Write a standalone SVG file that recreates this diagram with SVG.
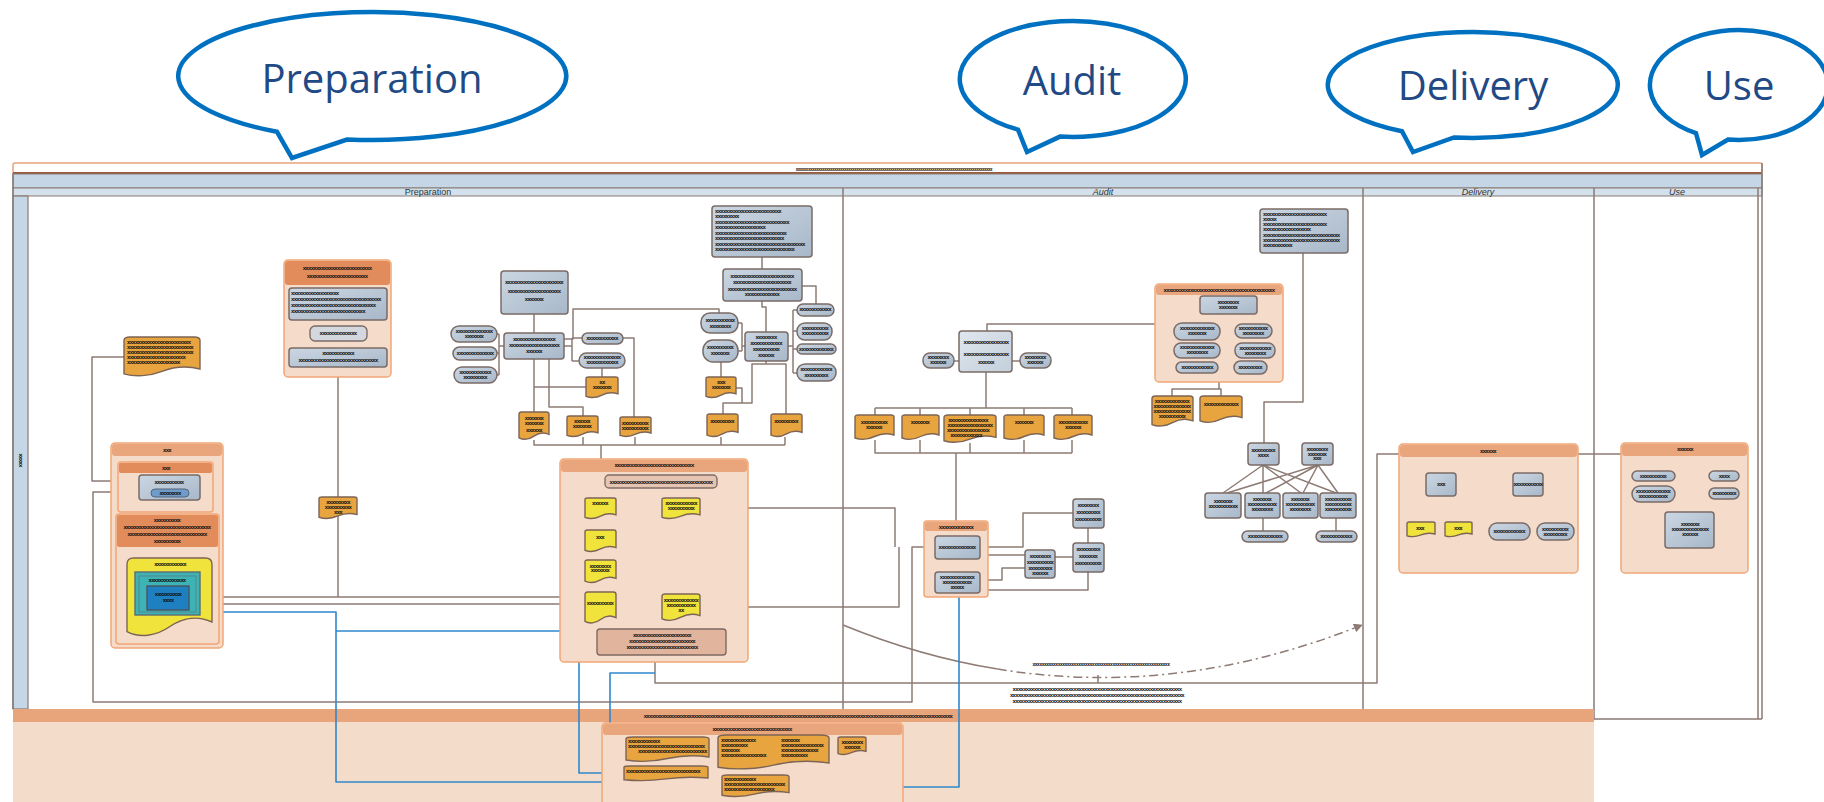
<svg xmlns="http://www.w3.org/2000/svg" width="1824" height="802" viewBox="0 0 1824 802">
<defs>
<style>
.callout{fill:#fff;stroke:#0070c0;stroke-width:4.5;stroke-linejoin:miter}
.ctext{font-family:"Open Sans","Noto Sans",sans-serif;font-size:40px;fill:#1f4a85;text-anchor:middle}
.frame{fill:none;stroke:#8a7a74;stroke-width:1.5}
.lbl{font-family:"Liberation Sans",sans-serif;font-size:9px;fill:#333;text-anchor:middle}
.s{font-family:"Liberation Sans",sans-serif;font-size:6px;font-weight:bold;letter-spacing:-0.7px;fill:#111;text-anchor:middle}
.sl{font-family:"Liberation Sans",sans-serif;font-size:6px;font-weight:bold;letter-spacing:-0.7px;fill:#111}
.grp{fill:#f5dbca;stroke:#f1a676;stroke-width:1.5}
.hdr{fill:#e9a57c}
.hdr2{fill:#e38c5b}
.nd{fill:url(#gb);stroke:#7b6b66;stroke-width:1.5}
.ndl{fill:url(#gl);stroke:#7b6b66;stroke-width:1.5}
.do{fill:#e8a53f}
.dy{fill:#efe33c}
.c{fill:none;stroke:#8d7b74;stroke-width:1.5;stroke-linejoin:round}
.b{fill:none;stroke:#2f88cc;stroke-width:1.6;stroke-linejoin:round}
</style>
<linearGradient id="gb" x1="0" y1="0" x2="1" y2="1"><stop offset="0" stop-color="#cbd6e2"/><stop offset="1" stop-color="#a8b8c9"/></linearGradient>
<linearGradient id="gl" x1="0" y1="0" x2="1" y2="1"><stop offset="0" stop-color="#e0e7ee"/><stop offset="1" stop-color="#c3cfdb"/></linearGradient>
<symbol id="doc" viewBox="0 0 100 100" preserveAspectRatio="none" overflow="visible">
<path d="M0,8 Q0,0 8,0 H92 Q100,0 100,8 V80 C84,72 66,74 50,86 C34,98 14,100 0,92 Z" stroke="#7d6454" stroke-width="1.4" vector-effect="non-scaling-stroke"/>
</symbol>
<marker id="arr" viewBox="0 0 10 10" refX="9" refY="5" markerWidth="6" markerHeight="6" orient="auto"><path d="M0,0 L10,5 L0,10 Z" fill="#8d7b74"/></marker>
</defs>

<rect width="1824" height="802" fill="#fff"/>

<!-- phase callouts -->
<g id="callout-preparation">
<path class="callout" d="M347,139.5 A194,64 0 1 0 277,131.8 L292,158 Z"/>
<text class="ctext" x="372" y="93">Preparation</text>
</g>
<g id="callout-audit">
<path class="callout" d="M1060,136.6 A113,58 0 1 0 1018,129.7 L1027,152 Z"/>
<text class="ctext" x="1072" y="95">Audit</text>
</g>
<g id="callout-delivery">
<path class="callout" d="M1454,137.5 A145,53 0 1 0 1402,131.2 L1413,152 Z"/>
<text class="ctext" x="1473" y="100">Delivery</text>
</g>
<g id="callout-use">
<path class="callout" d="M1728,139.6 A89,55 0 1 0 1696,133.2 L1702,155 Z"/>
<text class="ctext" x="1739" y="100">Use</text>
</g>

<!-- pool frame and lanes -->
<g id="pool">
<rect x="13" y="163" width="1749" height="10" rx="2" fill="#fff" stroke="#e9a27a" stroke-width="1.5"/>
<line x1="13" y1="173" x2="1762" y2="173" stroke="#9a5a3a" stroke-width="2"/>
<text class="s" x="894" y="171" style="font-size:4.5px;letter-spacing:-0.5px">xxxxxxxxxxxxxxxxxxxxxxxxxxxxxxxxxxxxxxxxxxxxxxxxxxxxxxxxxxxxxxxxxxxxxxxxxxxxxxxxxxxxxxxxxxxxxxxxxx</text>
<rect x="13" y="174" width="1749" height="14" fill="#c5d7e6" stroke="#8a7a74" stroke-width="1"/>
<rect x="13" y="188" width="1749" height="8" fill="#d2e1ec" stroke="#8a7a74" stroke-width="1"/>
<rect x="13" y="196" width="15" height="513" fill="#c5d7e6" stroke="#8a7a74" stroke-width="1.2"/>
<text class="s" transform="translate(19,460) rotate(90)">xxxxx</text>
<text class="lbl" x="428" y="195">Preparation</text>
<text class="lbl" x="1103" y="195" font-style="italic">Audit</text>
<text class="lbl" x="1478" y="195" font-style="italic">Delivery</text>
<text class="lbl" x="1677" y="195" font-style="italic">Use</text>
<path class="frame" d="M13,173 V709 M843,188 V709 M1363,188 V709 M1594,188 V719 M1758,188 V719 M1762,163 V719 M1594,719 H1762"/>
</g>

<!-- bottom lane -->
<g id="bottom-lane">
<rect x="13" y="709" width="1581" height="93" fill="#f4dccb"/>
<rect x="13" y="709" width="1581" height="13" fill="#e8a47a"/>
<text class="s" x="798" y="718">xxxxxxxxxxxxxxxxxxxxxxxxxxxxxxxxxxxxxxxxxxxxxxxxxxxxxxxxxxxxxxxxxxxxxxxxxxxxxxxxxxxxxxxxxxxxxxxxxxxxxxxxxxxxxxxxxxxxx</text>
</g>

<!-- connectors -->
<g id="connectors">
<path class="c" d="M124,357 H92 V481 H111"/>
<path class="c" d="M139,492 H93 V702 H912 V547 H935"/>
<path class="c" d="M338,377 V597"/>
<path class="c" d="M189,597 H585"/>
<path class="c" d="M212,604 H560"/>
<path class="c" d="M534,314 V333 M534,359 V412 M549,359 V407 H583 V416 M618,387 H534 M602,368 V377"/>
<path class="c" d="M497,334 H499 M497,353 H499 M497,375 H499 M499,334 V375 M499,346 H504"/>
<path class="c" d="M564,346 H572 M572,338 V361 M572,338 H582 M572,361 H579"/>
<path class="c" d="M564,339 H573 V309 H719 V313"/>
<path class="c" d="M623,338 H634 V417"/>
<path class="c" d="M534,440 V445 H785 M583,437 V445 M635,437 V445 M721,437 V445 M785,437 V445 M601,445 V498"/>
<path class="c" d="M762,257 V269 M762,301 V307 H766 V332 M802,286 H816 V304"/>
<path class="c" d="M738,323 H742 M738,351 H742 M742,323 V351 M742,346 H745"/>
<path class="c" d="M788,346 H793 M793,310 V373 M793,310 H797 M793,331 H797 M793,349 H797 M793,373 H797"/>
<path class="c" d="M721,362 V377 M736,388 H742 V403 M766,361 V364 H752 V403 H723 V414 M766,364 H786 V414"/>
<path class="c" d="M616,508 H662 M616,607 H662"/>
<path class="c" d="M700,508 H895 V547 M700,607 H899 V547"/>
<path class="c" d="M655,662 V683 H1377 V454 H1399"/>
<path class="c" d="M987,331 V324 H1155 M954,361 H959 M1012,361 H1020"/>
<path class="c" d="M986,372 V408 M875,408 H1072 M875,408 V415 M920,408 V415 M970,408 V415 M1024,408 V415 M1072,408 V415"/>
<path class="c" d="M875,440 V453 H1072 M920,440 V453 M970,443 V453 M1024,440 V453 M1072,440 V453 M956,453 V521"/>
<path class="c" d="M1228,314 V367 M1220,331 H1235 M1220,350 H1235 M1218,367 H1234"/>
<path class="c" d="M1219,382 V389 H1172 V396 M1219,389 H1221 V396"/>
<path class="c" d="M1303,253 V402 H1264 V443"/>
<path class="c" stroke-width="1.2" d="M1263,465 L1223,493 M1263,465 L1263,493 M1263,465 L1301,493 M1263,465 L1336,493 M1318,465 L1227,493 M1318,465 L1266,493 M1318,465 L1303,493 M1318,465 L1338,493"/>
<path class="c" d="M1263,518 V531 M1336,518 V531"/>
<path class="c" d="M957,559 V572 M980,547 H1023 V513 H1073 M980,555 H1025 M1055,557 H1073 M980,580 H1002 V568 H1025 M1088,528 V543 M980,590 H1088 V572"/>
<path class="c" d="M1488,457 V466 M1441,466 H1528 M1441,466 V473 M1528,466 V473 M1441,496 V514 M1421,514 H1458 M1421,514 V522 M1458,514 V522 M1528,496 V513 M1509,513 H1555 M1509,513 V523 M1555,513 V523"/>
<path class="c" d="M1578,454 H1621"/>
<path class="c" d="M1689,456 V512 M1675,476 H1709 M1675,494 H1709"/>
<path class="c" d="M709,751 H713 V772 H708 M713,753 H718 M829,749 H834 V749 H838 M741,770 V775"/>
<path class="c" d="M843,625 Q920,656.5 997.7,669.1"/>
<path class="c" stroke-dasharray="9 4 2 4" d="M997.7,669.1 Q1178.6,698.5 1362,625" marker-end="url(#arr)"/>
<path class="c" d="M1098,675 V683"/>
<path class="b" d="M200,612 H336 V782 H602 M336,631 H560"/>
<path class="b" d="M585,613 H579 V773 H624"/>
<path class="b" d="M655,673 H610 V750 H626"/>
<path class="b" d="M789,787 H959 V593"/>
</g>

<g id="flow-label">
<text class="s" x="1101" y="666" style="font-size:5px;letter-spacing:-0.5px">xxxxxxxxxxxxxxxxxxxxxxxxxxxxxxxxxxxxxxxxxxxxxxxxxxxxxxxxxxxx</text>
<text class="s" x="1097" y="691">xxxxxxxxxxxxxxxxxxxxxxxxxxxxxxxxxxxxxxxxxxxxxxxxxxxxxxxxxxxxxxxx</text>
<text class="s" x="1097" y="697">xxxxxxxxxxxxxxxxxxxxxxxxxxxxxxxxxxxxxxxxxxxxxxxxxxxxxxxxxxxxxxxxxx</text>
<text class="s" x="1097" y="703">xxxxxxxxxxxxxxxxxxxxxxxxxxxxxxxxxxxxxxxxxxxxxxxxxxxxxxxxxxxxxxxx</text>
</g>

<!-- preparation lane -->
<g id="n1"><use href="#doc" class="do" x="124" y="337" width="76" height="40"/>
<text class="sl" x="127" y="344">xxxxxxxxxxxxxxxxxxxxxxxx</text><text class="sl" x="127" y="349">xxxxxxxxxxxxxxxxxxxxxxxxx</text><text class="sl" x="127" y="354">xxxxxxxxxxxxxxxxxxxxxxxxx</text><text class="sl" x="127" y="359">xxxxxxxxxxxxxxxxxxxxxx</text><text class="sl" x="127" y="364">xxxxxxxxxxxxxxxxxxxx</text></g>

<g id="g1"><rect class="grp" x="111" y="443" width="112" height="205" rx="4"/><rect class="hdr" x="112" y="444" width="110" height="12" rx="3"/><text class="s" x="167" y="452">xxx</text></g>
<g id="g1a"><rect class="grp" x="118" y="462" width="95" height="50" rx="3"/><rect class="hdr2" x="119" y="463" width="93" height="10" rx="2"/><text class="s" x="166" y="470">xxx</text></g>
<g id="n2"><rect class="nd" x="139" y="475" width="61" height="25" rx="3"/><text class="s" x="169" y="484">xxxxxxxxxxx</text>
<rect x="151" y="489" width="38" height="8" rx="4" fill="#6f9cc9" stroke="#56657a"/><text class="s" x="170" y="495">xxxxxxxx</text></g>
<g id="g1b"><rect class="grp" x="116" y="514" width="103" height="130" rx="3"/><rect class="hdr2" x="117" y="515" width="101" height="32" rx="2"/>
<text class="s" x="167" y="522">xxxxxxxxxx</text><text class="s" x="167" y="529">xxxxxxxxxxxxxxxxxxxxxxxxxxxxxxxxx</text><text class="s" x="167" y="536">xxxxxxxxxxxxxxxxxxxxxxxxxxxxxx</text><text class="s" x="167" y="543">xxxxxxxxxx</text></g>
<g id="n3"><use href="#doc" class="dy" x="127" y="558" width="85" height="80"/><text class="s" x="170" y="566">xxxxxxxxxxxx</text></g>
<g id="n4"><rect x="135" y="572" width="65" height="43" fill="#3db3b5" stroke="#5d6b73" stroke-width="1.4"/><rect x="139" y="576" width="57" height="36" fill="none" stroke="#5d7b83" stroke-width="0.8"/><text class="s" x="167" y="582">xxxxxxxxxxxxxx</text></g>
<g id="n5"><rect x="147" y="586" width="42" height="24" fill="#1f80c1" stroke="#4a5560" stroke-width="1.4"/><text class="s" x="168" y="596">xxxxxxxxxx</text><text class="s" x="168" y="602">xxxx</text></g>

<g id="g2"><rect class="grp" x="284" y="260" width="107" height="117" rx="4"/><rect class="hdr2" x="285" y="261" width="105" height="24" rx="3"/>
<text class="s" x="337" y="270">xxxxxxxxxxxxxxxxxxxxxxxxxx</text><text class="s" x="337" y="278">xxxxxxxxxxxxxxxxxxxxxxx</text></g>
<g id="n6"><rect class="nd" x="289" y="288" width="98" height="32" rx="3"/>
<text class="sl" x="291" y="295">xxxxxxxxxxxxxxxxxx</text><text class="sl" x="291" y="301">xxxxxxxxxxxxxxxxxxxxxxxxxxxxxxxxxx</text><text class="sl" x="291" y="307">xxxxxxxxxxxxxxxxxxxxxxxxxxxxxxxx</text><text class="sl" x="291" y="313">xxxxxxxxxxxxxxxxxxxxxxxxxxxx</text></g>
<g id="n7"><rect x="310" y="326" width="57" height="15" rx="5" fill="#d4d7dd" stroke="#7b6b66" stroke-width="1.4"/><text class="s" x="338" y="335">xxxxxxxxxxxxxx</text></g>
<g id="n8"><rect class="nd" x="289" y="348" width="98" height="19" rx="3"/><text class="s" x="338" y="355">xxxxxxxxxxxx</text><text class="s" x="338" y="362">xxxxxxxxxxxxxxxxxxxxxxxxxxxxxx</text></g>
<g id="n9"><use href="#doc" class="do" x="319" y="497" width="38" height="22"/><text class="s" x="338" y="504">xxxxxxxxx</text><text class="s" x="338" y="509">xxxxxxxxxx</text><text class="s" x="338" y="514">xxx</text></g>

<g id="nA"><rect class="nd" x="501" y="271" width="67" height="43" rx="3"/><text class="s" x="534" y="284">xxxxxxxxxxxxxxxxxxxxxx</text><text class="s" x="534" y="293">xxxxxxxxxxxxxxxxxxxx</text><text class="s" x="534" y="301">xxxxxxx</text></g>
<g id="nB"><rect class="nd" x="504" y="333" width="60" height="26" rx="3"/><text class="s" x="534" y="341">xxxxxxxxxxxxxxxx</text><text class="s" x="534" y="347">xxxxxxxxxxxxxxxxxxx</text><text class="s" x="534" y="353">xxxxxx</text></g>
<g id="pL1"><rect class="nd" x="451" y="326" width="46" height="16" rx="8"/><text class="s" x="474" y="333">xxxxxxxxxxxxxx</text><text class="s" x="474" y="338">xxxxxxx</text></g>
<g id="pL2"><rect class="nd" x="453" y="347" width="44" height="13" rx="6.5"/><text class="s" x="475" y="355">xxxxxxxxxxxxxx</text></g>
<g id="pL3"><rect class="nd" x="454" y="367" width="43" height="16" rx="8"/><text class="s" x="475" y="374">xxxxxxxxxxxx</text><text class="s" x="475" y="379">xxxxxxxxx</text></g>
<g id="pR1"><rect class="nd" x="582" y="333" width="41" height="11" rx="5.5"/><text class="s" x="602" y="340">xxxxxxxxxxxx</text></g>
<g id="pR2"><rect class="nd" x="579" y="353" width="46" height="15" rx="7.5"/><text class="s" x="602" y="359">xxxxxxxxxxxxxx</text><text class="s" x="602" y="364">xxxxxxxxxxxx</text></g>
<g id="dO1"><use href="#doc" class="do" x="586" y="377" width="32" height="21"/><text class="s" x="602" y="384">xx</text><text class="s" x="602" y="389">xxxxxxx</text></g>
<g id="dO2"><use href="#doc" class="do" x="519" y="412" width="30" height="28"/><text class="s" x="534" y="420">xxxxxxx</text><text class="s" x="534" y="425">xxxxxxx</text><text class="s" x="534" y="432">xxxxxx</text></g>
<g id="dO3"><use href="#doc" class="do" x="567" y="416" width="31" height="21"/><text class="s" x="582" y="423">xxxxxx</text><text class="s" x="582" y="428">xxxxxxx</text></g>
<g id="dO4"><use href="#doc" class="do" x="620" y="417" width="31" height="20"/><text class="s" x="635" y="425">xxxxxxxxxx</text><text class="s" x="635" y="430">xxxxxxxxxx</text></g>

<g id="nC"><rect class="nd" x="712" y="206" width="100" height="51" rx="3"/>
<text class="sl" x="715" y="213">xxxxxxxxxxxxxxxxxxxxxxxxx</text><text class="sl" x="715" y="218">xxxxxxxxx</text><text class="sl" x="715" y="224">xxxxxxxxxxxxxxxxxxxxxxxxxxxx</text><text class="sl" x="715" y="229">xxxxxxxxxxxxxxxxxxx</text><text class="sl" x="715" y="235">xxxxxxxxxxxxxxxxxxxxxxxxxxx</text><text class="sl" x="715" y="240">xxxxxxxxxxxxxxxxxxxxxxxxxx</text><text class="sl" x="715" y="246">xxxxxxxxxxxxxxxxxxxxxxxxxxxxxxxxxx</text><text class="sl" x="715" y="251">xxxxxxxxxxxxxxxxxxxxxxxxxxxxxx</text></g>
<g id="nD"><rect class="nd" x="723" y="269" width="79" height="32" rx="3"/><text class="s" x="762" y="278">xxxxxxxxxxxxxxxxxxxxxxxx</text><text class="s" x="762" y="284">xxxxxxxxxxxxxxxxxxxxxx</text><text class="s" x="762" y="291">xxxxxxxxxxxxxxxxxxxxxxxxxx</text><text class="s" x="762" y="296">xxxxxxxxxxxxx</text></g>
<g id="nE"><rect class="nd" x="745" y="332" width="43" height="29" rx="3"/><text class="s" x="766" y="339">xxxxxxxx</text><text class="s" x="766" y="345">xxxxxxxxxxxx</text><text class="s" x="766" y="351">xxxxxxxxxx</text><text class="s" x="766" y="357">xxxxxx</text></g>
<g id="pL4"><rect class="nd" x="701" y="313" width="37" height="20" rx="9"/><text class="s" x="720" y="322">xxxxxxxxxxx</text><text class="s" x="720" y="328">xxxxxxxx</text></g>
<g id="pL5"><rect class="nd" x="703" y="340" width="35" height="22" rx="10"/><text class="s" x="720" y="349">xxxxxxxxxx</text><text class="s" x="720" y="355">xxxxxxx</text></g>
<g id="pR3"><rect class="nd" x="797" y="304" width="37" height="12" rx="6"/><text class="s" x="815" y="311">xxxxxxxxxxxx</text></g>
<g id="pR4"><rect class="nd" x="797" y="323" width="35" height="17" rx="8"/><text class="s" x="815" y="330">xxxxxxxxxx</text><text class="s" x="815" y="335">xxxxxxxxxx</text></g>
<g id="pR5"><rect class="nd" x="797" y="344" width="39" height="10" rx="5"/><text class="s" x="816" y="351">xxxxxxxxxxxxx</text></g>
<g id="pR6"><rect class="nd" x="797" y="364" width="39" height="17" rx="8"/><text class="s" x="816" y="371">xxxxxxxxxxxx</text><text class="s" x="816" y="377">xxxxxxxxx</text></g>
<g id="dO5"><use href="#doc" class="do" x="706" y="377" width="30" height="21"/><text class="s" x="721" y="384">xxx</text><text class="s" x="721" y="389">xxxxxxx</text></g>
<g id="dO6"><use href="#doc" class="do" x="707" y="414" width="31" height="23"/><text class="s" x="722" y="423">xxxxxxxxx</text></g>
<g id="dO7"><use href="#doc" class="do" x="771" y="414" width="31" height="23"/><text class="s" x="786" y="423">xxxxxxxxx</text></g>

<g id="g3"><rect class="grp" x="560" y="459" width="188" height="203" rx="4"/><rect class="hdr" x="561" y="460" width="186" height="12" rx="3"/><text class="s" x="654" y="467">xxxxxxxxxxxxxxxxxxxxxxxxxxxxxx</text></g>
<g id="pW"><rect x="605" y="475" width="112" height="13" rx="4" fill="#e5c4b2" stroke="#806e66" stroke-width="1.4"/><text class="s" x="661" y="484">xxxxxxxxxxxxxxxxxxxxxxxxxxxxxxxxxxxxxxx</text></g>
<g id="Y1"><use href="#doc" class="dy" x="585" y="498" width="31" height="21"/><text class="s" x="600" y="505">xxxxxx</text></g>
<g id="Y2"><use href="#doc" class="dy" x="662" y="498" width="38" height="21"/><text class="s" x="681" y="505">xxxxxxxxxxxx</text><text class="s" x="681" y="510">xxxxxxxxxx</text></g>
<g id="Y3"><use href="#doc" class="dy" x="585" y="530" width="31" height="22"/><text class="s" x="600" y="539">xxx</text></g>
<g id="Y4"><use href="#doc" class="dy" x="585" y="560" width="31" height="23"/><text class="s" x="600" y="568">xxxxxxxx</text><text class="s" x="600" y="572">xxxxxxx</text></g>
<g id="Y5"><use href="#doc" class="dy" x="585" y="592" width="31" height="32"/><text class="s" x="600" y="605">xxxxxxxxxx</text></g>
<g id="Y6"><use href="#doc" class="dy" x="662" y="594" width="38" height="27"/><text class="s" x="681" y="602">xxxxxxxxxxxxx</text><text class="s" x="681" y="607">xxxxxxxxxxx</text><text class="s" x="681" y="612">xx</text></g>
<g id="box"><rect x="597" y="629" width="129" height="26" rx="3" fill="#e1b59d" stroke="#7d6a62" stroke-width="1.4"/><text class="s" x="662" y="637">xxxxxxxxxxxxxxxxxxxxxx</text><text class="s" x="662" y="643">xxxxxxxxxxxxxxxxxxxxxxxxx</text><text class="s" x="662" y="649">xxxxxxxxxxxxxxxxxxxxxxxxxxx</text></g>

<!-- audit lane -->
<g id="nK"><rect class="ndl" x="959" y="331" width="53" height="41" rx="3"/><text class="s" x="986" y="344">xxxxxxxxxxxxxxxxx</text><text class="s" x="986" y="356">xxxxxxxxxxxxxxxxx</text><text class="s" x="986" y="364">xxxxxx</text></g>
<g id="pK1"><rect class="nd" x="923" y="353" width="31" height="15" rx="7"/><text class="s" x="938" y="359">xxxxxxxx</text><text class="s" x="938" y="364">xxxxxx</text></g>
<g id="pK2"><rect class="nd" x="1020" y="353" width="31" height="15" rx="7"/><text class="s" x="1035" y="359">xxxxxxxx</text><text class="s" x="1035" y="364">xxxxxx</text></g>
<g id="D1"><use href="#doc" class="do" x="855" y="415" width="39" height="25"/><text class="s" x="874" y="424">xxxxxxxxxx</text><text class="s" x="874" y="429">xxxxxx</text></g>
<g id="D2"><use href="#doc" class="do" x="902" y="415" width="37" height="25"/><text class="s" x="920" y="424">xxxxxxx</text></g>
<g id="D3"><use href="#doc" class="do" x="944" y="415" width="52" height="28"/><text class="s" x="968" y="422">xxxxxxxxxxxxxxx</text><text class="s" x="970" y="427">xxxxxxxxxxxxxxxxx</text><text class="s" x="968" y="432">xxxxxxxxxxxxxxxx</text><text class="s" x="966" y="437">xxxxxxxxxxxx</text></g>
<g id="D4"><use href="#doc" class="do" x="1004" y="415" width="40" height="25"/><text class="s" x="1024" y="424">xxxxxxx</text></g>
<g id="D5"><use href="#doc" class="do" x="1054" y="415" width="38" height="25"/><text class="s" x="1073" y="424">xxxxxxxxxxx</text><text class="s" x="1073" y="429">xxxxxx</text></g>

<g id="g4"><rect class="grp" x="1155" y="284" width="128" height="98" rx="4"/><rect class="hdr" x="1156" y="285" width="126" height="10" rx="3"/><text class="s" x="1219" y="292">xxxxxxxxxxxxxxxxxxxxxxxxxxxxxxxxxxxxxxxxxx</text></g>
<g id="nM"><rect class="nd" x="1200" y="296" width="57" height="18" rx="3"/><text class="s" x="1228" y="304">xxxxxxxx</text><text class="s" x="1228" y="309">xxxxxxx</text></g>
<g id="pM1"><rect class="nd" x="1174" y="323" width="46" height="17" rx="8"/><text class="s" x="1197" y="330">xxxxxxxxxxxxx</text><text class="s" x="1197" y="335">xxxxxxx</text></g>
<g id="pM2"><rect class="nd" x="1174" y="343" width="46" height="15" rx="7"/><text class="s" x="1197" y="349">xxxxxxxxxxxxx</text><text class="s" x="1197" y="354">xxxxxxxx</text></g>
<g id="pM3"><rect class="nd" x="1176" y="362" width="42" height="11" rx="5.5"/><text class="s" x="1197" y="369">xxxxxxxxxxxx</text></g>
<g id="pM4"><rect class="nd" x="1235" y="324" width="37" height="14" rx="7"/><text class="s" x="1253" y="330">xxxxxxxxxxx</text><text class="s" x="1253" y="335">xxxxxxxx</text></g>
<g id="pM5"><rect class="nd" x="1235" y="343" width="40" height="15" rx="7"/><text class="s" x="1255" y="350">xxxxxxxxxxxx</text><text class="s" x="1255" y="355">xxxxxxxx</text></g>
<g id="pM6"><rect class="nd" x="1234" y="361" width="33" height="13" rx="6.5"/><text class="s" x="1250" y="369">xxxxxxxxx</text></g>
<g id="dA1"><use href="#doc" class="do" x="1152" y="396" width="41" height="31"/><text class="s" x="1172" y="403">xxxxxxxxxxxxx</text><text class="s" x="1172" y="408">xxxxxxxxxxxxxx</text><text class="s" x="1172" y="413">xxxxxxxxxxxxxx</text><text class="s" x="1172" y="418">xxxxxxxxxx</text></g>
<g id="dA2"><use href="#doc" class="do" x="1200" y="396" width="42" height="27"/><text class="s" x="1221" y="406">xxxxxxxxxxxxx</text></g>

<g id="nTop"><rect class="nd" x="1260" y="209" width="88" height="44" rx="3"/>
<text class="sl" x="1263" y="216">xxxxxxxxxxxxxxxxxxxxxxxx</text><text class="sl" x="1263" y="221">xxxxx</text><text class="sl" x="1263" y="226">xxxxxxxxxxxxxxxxxxxxxxxx</text><text class="sl" x="1263" y="231">xxxxxxxxxxxxxxxxxx</text><text class="sl" x="1263" y="237">xxxxxxxxxxxxxxxxxxxxxxxxxxxxx</text><text class="sl" x="1263" y="242">xxxxxxxxxxxxxxxxxxxxxxxxxxxxx</text><text class="sl" x="1263" y="247">xxxxxxxxxxx</text></g>
<g id="S1"><rect class="nd" x="1248" y="443" width="31" height="22" rx="3"/><text class="s" x="1263" y="452">xxxxxxxxx</text><text class="s" x="1263" y="457">xxxx</text></g>
<g id="S2"><rect class="nd" x="1302" y="443" width="31" height="22" rx="3"/><text class="s" x="1317" y="451">xxxxxxxx</text><text class="s" x="1317" y="456">xxxxxxx</text><text class="s" x="1317" y="460">xxx</text></g>
<g id="T1"><rect class="nd" x="1205" y="493" width="36" height="25" rx="3"/><text class="s" x="1223" y="503">xxxxxxx</text><text class="s" x="1223" y="508">xxxxxxxxxxx</text></g>
<g id="T2"><rect class="nd" x="1245" y="493" width="35" height="25" rx="3"/><text class="s" x="1262" y="501">xxxxxxx</text><text class="s" x="1262" y="506">xxxxxxxxxxx</text><text class="s" x="1262" y="511">xxxxxxxx</text></g>
<g id="T3"><rect class="nd" x="1283" y="493" width="35" height="25" rx="3"/><text class="s" x="1300" y="501">xxxxxxx</text><text class="s" x="1300" y="506">xxxxxxxxxxx</text><text class="s" x="1300" y="511">xxxxxxxx</text></g>
<g id="T4"><rect class="nd" x="1320" y="493" width="36" height="25" rx="3"/><text class="s" x="1338" y="501">xxxxxxxxxx</text><text class="s" x="1338" y="506">xxxxxxxxxx</text><text class="s" x="1338" y="511">xxxxxxxxxx</text></g>
<g id="U1"><rect class="nd" x="1242" y="531" width="46" height="11" rx="5.5"/><text class="s" x="1265" y="538">xxxxxxxxxxxxx</text></g>
<g id="U2"><rect class="nd" x="1316" y="531" width="41" height="11" rx="5.5"/><text class="s" x="1336" y="538">xxxxxxxxxxxx</text></g>

<g id="g5"><rect class="grp" x="924" y="521" width="64" height="76" rx="3"/><rect class="hdr" x="925" y="522" width="62" height="9" rx="2"/><text class="s" x="956" y="529">xxxxxxxxxxxxx</text></g>
<g id="G1"><rect class="nd" x="935" y="536" width="45" height="23" rx="3"/><text class="s" x="957" y="549">xxxxxxxxxxxxxx</text></g>
<g id="G2"><rect class="nd" x="935" y="572" width="45" height="21" rx="3"/><text class="s" x="957" y="579">xxxxxxxxxxxxx</text><text class="s" x="957" y="584">xxxxxxxxxxx</text><text class="s" x="957" y="589">xxxxx</text></g>
<g id="N1"><rect class="nd" x="1073" y="499" width="31" height="29" rx="3"/><text class="s" x="1088" y="507">xxxxxxxx</text><text class="s" x="1088" y="514">xxxxxxxxx</text><text class="s" x="1088" y="521">xxxxxxxxxx</text></g>
<g id="N2"><rect class="nd" x="1073" y="543" width="31" height="29" rx="3"/><text class="s" x="1088" y="551">xxxxxxxxx</text><text class="s" x="1088" y="558">xxxxxxx</text><text class="s" x="1088" y="565">xxxxxxxxxx</text></g>
<g id="N3"><rect class="nd" x="1025" y="550" width="30" height="28" rx="3"/><text class="s" x="1040" y="558">xxxxxxxx</text><text class="s" x="1040" y="564">xxxxxxxxxx</text><text class="s" x="1040" y="570">xxxxxxxxx</text><text class="s" x="1040" y="575">xxxxxx</text></g>

<!-- delivery lane -->
<g id="g6"><rect class="grp" x="1399" y="444" width="179" height="129" rx="4"/><rect class="hdr" x="1400" y="445" width="177" height="12" rx="3"/><text class="s" x="1488" y="453">xxxxxx</text></g>
<g id="V1"><rect class="nd" x="1426" y="473" width="30" height="23" rx="3"/><text class="s" x="1441" y="486">xxx</text></g>
<g id="V2"><rect class="nd" x="1513" y="473" width="30" height="23" rx="3"/><text class="s" x="1528" y="486">xxxxxxxxxxx</text></g>
<g id="W1"><use href="#doc" class="dy" x="1407" y="522" width="28" height="15"/><text class="s" x="1420" y="530">xxx</text></g>
<g id="W2"><use href="#doc" class="dy" x="1445" y="522" width="27" height="15"/><text class="s" x="1458" y="530">xxx</text></g>
<g id="X1"><rect class="nd" x="1489" y="523" width="41" height="17" rx="8"/><text class="s" x="1509" y="533">xxxxxxxxxxxx</text></g>
<g id="X2"><rect class="nd" x="1537" y="523" width="37" height="17" rx="8"/><text class="s" x="1555" y="531">xxxxxxxxxx</text><text class="s" x="1555" y="536">xxxxxxxxx</text></g>

<!-- use lane -->
<g id="g7"><rect class="grp" x="1621" y="443" width="127" height="130" rx="4"/><rect class="hdr" x="1622" y="444" width="125" height="12" rx="3"/><text class="s" x="1685" y="451">xxxxxx</text></g>
<g id="uP1"><rect class="nd" x="1632" y="471" width="43" height="10" rx="5"/><text class="s" x="1653" y="478">xxxxxxxxxx</text></g>
<g id="uP2"><rect class="nd" x="1632" y="486" width="43" height="16" rx="8"/><text class="s" x="1653" y="493">xxxxxxxxxxxxx</text><text class="s" x="1653" y="498">xxxxxxxxxxx</text></g>
<g id="uP3"><rect class="nd" x="1709" y="471" width="30" height="10" rx="5"/><text class="s" x="1724" y="478">xxxx</text></g>
<g id="uP4"><rect class="nd" x="1709" y="488" width="30" height="11" rx="5.5"/><text class="s" x="1724" y="495">xxxxxxxxx</text></g>
<g id="Z"><rect class="nd" x="1665" y="512" width="49" height="36" rx="3"/><text class="s" x="1690" y="526">xxxxxxx</text><text class="s" x="1690" y="531">xxxxxxxxxxxxxx</text><text class="s" x="1690" y="536">xxxxxx</text></g>

<!-- bottom lane group -->
<g id="g8"><rect class="grp" x="602" y="723" width="301" height="90" rx="4"/><rect class="hdr" x="603" y="724" width="299" height="11" rx="3"/><text class="s" x="752" y="731">xxxxxxxxxxxxxxxxxxxxxxxxxxxxxx</text></g>
<g id="B1"><use href="#doc" class="do" x="626" y="737" width="83" height="25"/><text class="sl" x="628" y="743">xxxxxxxxxxxx</text><text class="sl" x="628" y="748">xxxxxxxxxxxxxxxxxxxxxxxxxxxxx</text><text class="sl" x="638" y="753">xxxxxxxxxxxxxxxxxxxxxxxxxx</text></g>
<g id="B2"><use href="#doc" class="do" x="624" y="766" width="84" height="15"/><text class="sl" x="626" y="773">xxxxxxxxxxxxxxxxxxxxxxxxxxxx</text></g>
<g id="B3"><use href="#doc" class="do" x="718" y="735" width="111" height="35"/><text class="sl" x="721" y="742">xxxxxxxxxxxxx</text><text class="sl" x="721" y="747">xxxxxxxxxx</text><text class="sl" x="721" y="752">xxxxxxx</text><text class="sl" x="721" y="757">xxxxxxxxxxxxxxxxx</text>
<text class="sl" x="781" y="742">xxxxxxx</text><text class="sl" x="781" y="747">xxxxxxxxxxxxxxxx</text><text class="sl" x="781" y="752">xxxxxxxxxxxxxx</text><text class="sl" x="781" y="757">xxxxxxxxxx</text></g>
<g id="B4"><use href="#doc" class="do" x="838" y="737" width="28" height="18"/><text class="s" x="852" y="744">xxxxxxxx</text><text class="s" x="852" y="749">xxxxxx</text></g>
<g id="B5"><use href="#doc" class="do" x="722" y="775" width="67" height="22"/><text class="sl" x="724" y="781">xxxxxxxxxxxx</text><text class="sl" x="724" y="786">xxxxxxxxxxxxxxxxxxxxxxx</text><text class="sl" x="724" y="791">xxxxxxxxxxxxxxxxxxx</text></g>
</svg>
